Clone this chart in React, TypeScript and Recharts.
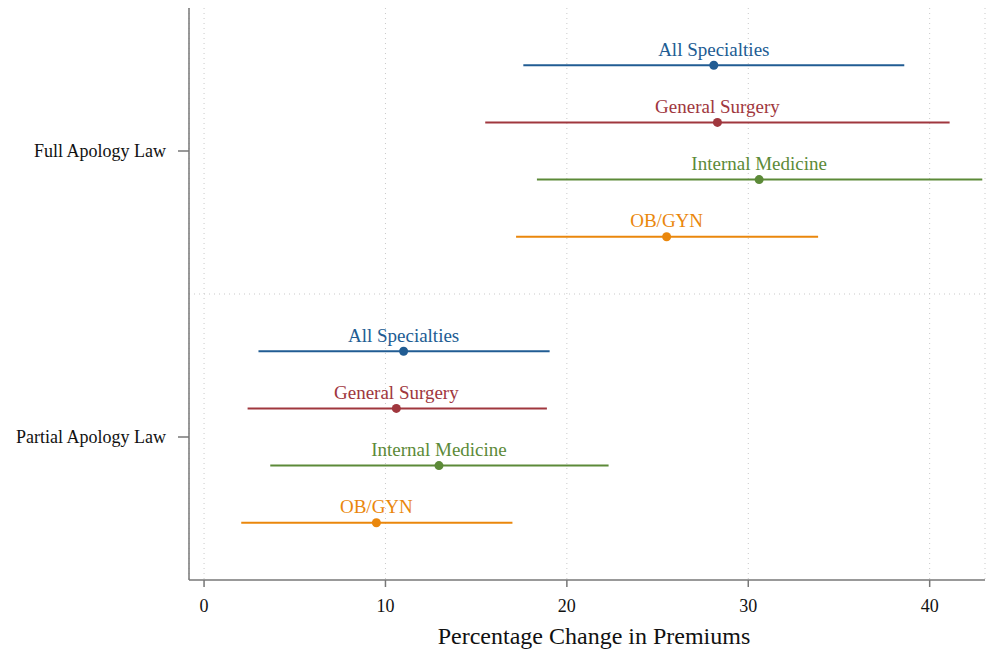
import {
  ScatterChart, Scatter, XAxis, YAxis, ZAxis, CartesianGrid, ReferenceLine,
  ErrorBar, LabelList,
} from "recharts";

const SPECIALTIES = ["All Specialties", "General Surgery", "Internal Medicine", "OB/GYN"];
const COLORS = ["#215c93", "#a0373e", "#5c8a38", "#ea870c"];
const LAWS = ["Full Apology Law", "Partial Apology Law"];

// point estimates and 95% CI bounds, per specialty: [full, partial]
const EST = [
  [28.1, 11.0],
  [28.3, 10.6],
  [30.6, 12.95],
  [25.5, 9.5],
];
const LOW = [
  [17.6, 3.0],
  [15.5, 2.4],
  [18.35, 3.65],
  [17.2, 2.05],
];
const HIGH = [
  [38.6, 19.05],
  [41.1, 18.9],
  [42.9, 22.3],
  [33.85, 17.0],
];

const X_TICKS = [0, 10, 20, 30, 40];
// row slots on the y axis: full law rows 1-4, partial law rows 6-9
const ROW_FULL = [1, 2, 3, 4];
const ROW_PARTIAL = [6, 7, 8, 9];
const LAW_TICKS = [2.5, 7.5];

const AXIS = "#777";
const GRID = "#c9c9c9";
const FONT = "'Liberation Serif', 'DejaVu Serif', serif";

export default function App() {
  const series = SPECIALTIES.map((name, i) => ({
    name,
    color: COLORS[i],
    data: [0, 1].map((k) => ({
      x: EST[i][k],
      y: k === 0 ? ROW_FULL[i] : ROW_PARTIAL[i],
      err: [EST[i][k] - LOW[i][k], HIGH[i][k] - EST[i][k]],
      name,
    })),
  }));

  // label centred above the marker, no wrapping
  const mkLabel = (color: string) => (p: any) => {
    const cx = Number(p.x) + Number(p.width || 0) / 2;
    const cy = Number(p.y);
    return (
      <text x={cx} y={cy - 5} textAnchor="middle" fill={color} fontSize={19} fontFamily={FONT}>
        {p.value}
      </text>
    );
  };

  return (
    <div style={{ width: 987, height: 652, background: "#fff" }}>
      <style>{`body{margin:0}`}</style>
      <ScatterChart width={987} height={652} margin={{ top: 8, right: 2, bottom: 0, left: 0 }}>
        <CartesianGrid horizontal={false} stroke={GRID} strokeDasharray="1 4" />
        <XAxis
          type="number" dataKey="x" domain={[-0.83, 43.05]} ticks={X_TICKS}
          allowDataOverflow height={72}
          stroke={AXIS} strokeWidth={1.5} tickSize={7} tickMargin={12}
          tick={{ fill: "#111", fontSize: 18, fontFamily: FONT }}
          label={{ value: "Percentage Change in Premiums", position: "insideBottom", offset: 8, dx: 7, fill: "#111", fontSize: 24, fontFamily: FONT }}
        />
        <YAxis
          type="number" dataKey="y" domain={[0, 10]} reversed ticks={LAW_TICKS}
          tickFormatter={(v: number) => LAWS[LAW_TICKS.indexOf(v)] ?? ""}
          width={189} stroke={AXIS} strokeWidth={1.5} tickSize={11} tickMargin={12}
          tick={{ fill: "#111", fontSize: 18, fontFamily: FONT }}
        />
        <ZAxis range={[110, 110]} />
        <ReferenceLine y={5} stroke={GRID} strokeDasharray="1 4" />
        {series.map((s) => (
          <Scatter key={s.name} data={s.data} fill={s.color} isAnimationActive={false}>
            <ErrorBar dataKey="err" direction="x" width={0} stroke={s.color} strokeWidth={2} isAnimationActive={false} />
            <LabelList dataKey="name" content={mkLabel(s.color)} />
          </Scatter>
        ))}
      </ScatterChart>
    </div>
  );
}
